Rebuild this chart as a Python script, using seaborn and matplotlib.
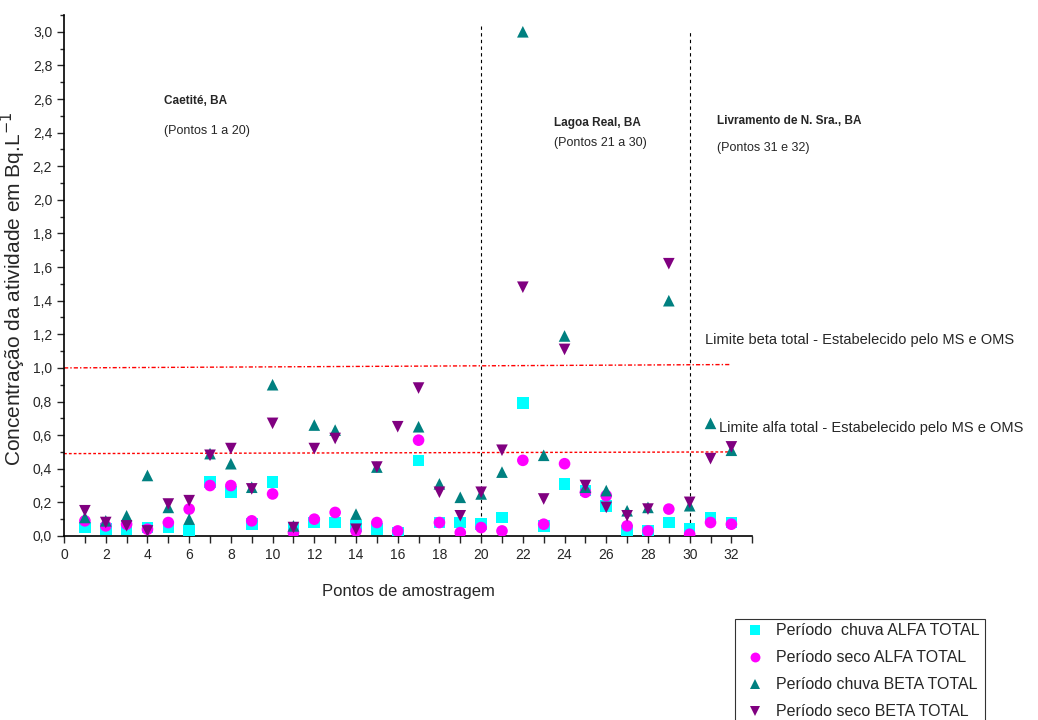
import numpy as np
import pandas as pd
import seaborn as sns
import matplotlib.pyplot as plt
from matplotlib.ticker import MultipleLocator, FuncFormatter

pontos = list(range(1, 33))

chuva_alfa = [0.05, 0.04, 0.04, 0.05, 0.05, 0.03, 0.32, 0.26, 0.07, 0.32,
              0.04, 0.08, 0.08, 0.06, 0.04, 0.02, 0.45, 0.08, 0.08, 0.07,
              0.11, 0.79, 0.06, 0.31, 0.27, 0.18, 0.03, 0.03, 0.08, 0.04,
              0.11, 0.08]
seco_alfa = [0.09, 0.06, 0.07, 0.04, 0.08, 0.16, 0.30, 0.30, 0.09, 0.25,
             0.02, 0.10, 0.14, 0.03, 0.08, 0.03, 0.57, 0.08, 0.02, 0.05,
             0.03, 0.45, 0.07, 0.43, 0.26, 0.24, 0.06, 0.03, 0.16, 0.01,
             0.08, 0.07]
chuva_beta = [0.11, 0.09, 0.12, 0.36, 0.17, 0.10, 0.49, 0.43, 0.29, 0.90,
              0.06, 0.66, 0.63, 0.13, 0.41, 0.0, 0.65, 0.31, 0.23, 0.25,
              0.38, 3.00, 0.48, 1.19, 0.29, 0.27, 0.15, 0.17, 1.40, 0.18,
              0.67, 0.51]
seco_beta = [0.15, 0.08, 0.06, 0.03, 0.19, 0.21, 0.48, 0.52, 0.28, 0.67,
             0.05, 0.52, 0.58, 0.04, 0.41, 0.65, 0.88, 0.26, 0.12, 0.26,
             0.51, 1.48, 0.22, 1.11, 0.30, 0.17, 0.12, 0.16, 1.62, 0.20,
             0.46, 0.53]

series = ['Período  chuva ALFA TOTAL', 'Período seco ALFA TOTAL',
          'Período chuva BETA TOTAL', 'Período seco BETA TOTAL']
cores = ['#00FFFF', '#FF00FF', '#008080', '#800080']
marcadores = ['s', 'o', '^', 'v']

limite_beta = [1.0, 1.02]
limite_alfa = [0.49, 0.50]
limite_x = [0, 32]
divisas = [20, 30]
divisas_topo = [3.05, 3.0]

regioes = ['Caetité, BA', 'Lagoa Real, BA', 'Livramento de N. Sra., BA']
regioes_sub = ['(Pontos 1 a 20)', '(Pontos 21 a 30)', '(Pontos 31 e 32)']
regioes_x = [4.8, 23.5, 31.3]
regioes_y = [2.57, 2.44, 2.45]
regioes_sub_y = [2.39, 2.32, 2.29]

df = pd.concat([
    pd.DataFrame({'Ponto': pontos, 'valor': v, 'serie': s})
    for v, s in zip([chuva_alfa, seco_alfa, chuva_beta, seco_beta], series)
])
df = df[df['valor'] > 0]

sns.set_style('ticks')
plt.rcParams['font.family'] = ['Liberation Sans', 'DejaVu Sans']

fig = plt.figure(figsize=(10.38, 7.2), dpi=100)
ax = fig.add_axes([0.0617, 0.2556, 0.663, 0.7236])

sns.scatterplot(data=df, x='Ponto', y='valor', hue='serie', style='serie',
                palette=dict(zip(series, cores)),
                markers=dict(zip(series, marcadores)),
                s=70, linewidth=0, ax=ax, legend=True, zorder=3)

ax.plot(limite_x, limite_beta, color='red', ls=(0, (3, 1.5, 1, 1.5)), lw=1)
ax.plot(limite_x, limite_alfa, color='red', ls=(0, (2, 1.5)), lw=1)
for xd, top in zip(divisas, divisas_topo):
    ax.plot([xd, xd], [0, top], color='black', ls=(0, (3, 3)), lw=0.8)

for nome, sub, x, y, ys in zip(regioes, regioes_sub, regioes_x, regioes_y, regioes_sub_y):
    ax.text(x, y, nome, fontsize=8.5, fontweight='bold')
    ax.text(x, ys, sub, fontsize=9)

ax.text(30.75, 1.14, 'Limite beta total - Estabelecido pelo MS e OMS', fontsize=10.5)
ax.text(31.4, 0.62, 'Limite alfa total - Estabelecido pelo MS e OMS', fontsize=10.5)

ax.set_xlim(0, 33)
ax.set_ylim(0, 3.1)
ax.xaxis.set_major_locator(MultipleLocator(2))
ax.xaxis.set_minor_locator(MultipleLocator(1))
ax.yaxis.set_major_locator(MultipleLocator(0.2))
ax.yaxis.set_minor_locator(MultipleLocator(0.1))
ax.yaxis.set_major_formatter(FuncFormatter(lambda v, p: f'{v:.1f}'.replace('.', ',')))
ax.tick_params(axis='both', which='major', labelsize=10, length=5, width=1)
ax.tick_params(axis='both', which='minor', length=3, width=1)
ax.tick_params(axis='x', which='minor', length=5)
sns.despine(ax=ax)
for sp in ['left', 'bottom']:
    ax.spines[sp].set_linewidth(1.2)
    ax.spines[sp].set_color('black')

ax.set_xlabel('Pontos de amostragem', fontsize=12, labelpad=16)
ax.set_ylabel('Concentração da atividade em Bq.L$^{-1}$', fontsize=15)
ax.yaxis.set_label_coords(-0.052, 0.475)

leg = ax.legend(loc='upper left', bbox_to_anchor=(0.700, 0.152),
                bbox_transform=fig.transFigure, fontsize=11.5, frameon=True,
                fancybox=False, borderpad=0.3, handletextpad=0.3,
                labelspacing=0.75, markerscale=0.85)
leg.get_frame().set_edgecolor('black')
leg.get_frame().set_linewidth(0.8)

fig.savefig('out.png', dpi=100)
